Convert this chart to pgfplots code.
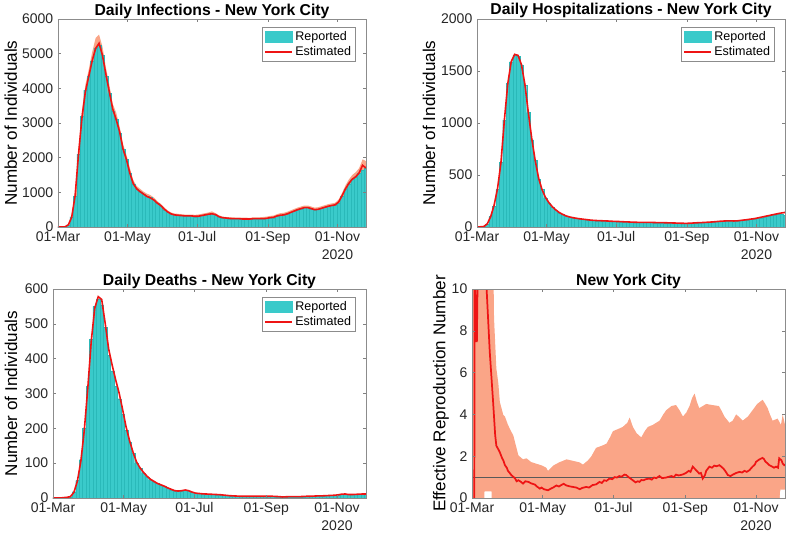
\documentclass[border=0pt]{standalone}
\usepackage{fontspec}
\setmainfont{Liberation Sans}
\usepackage{pgfplots}
\usepackage{pgfplotstable}
\pgfplotsset{compat=1.18}
\definecolor{barc}{RGB}{58,202,202}
\definecolor{bare}{RGB}{42,185,185}
\definecolor{bandc}{RGB}{250,165,135}
\definecolor{estc}{RGB}{238,20,20}

\pgfplotstableread{
d r e u
0 0 0 0
3 0 0 0
6 5 5 10
9 60 60 80
12 300 280 330
15 900 900 1000
18 2100 2100 2250
21 3200 3150 3350
24 3950 3900 4100
27 4350 4350 4550
30 4800 4800 5050
33 5150 5150 5450
36 5250 5300 5550
39 4950 4950 5200
42 4350 4400 4600
45 3850 3900 4100
48 3350 3400 3550
51 3100 3100 3300
54 2700 2750 2900
57 2250 2250 2400
60 1950 1950 2080
63 1550 1550 1700
66 1250 1250 1350
69 1100 1100 1180
72 1020 1020 1100
75 950 950 1020
78 880 880 960
81 850 840 920
84 780 780 850
87 680 690 750
90 600 620 670
93 500 520 570
96 420 440 480
99 370 380 420
102 350 350 390
105 340 340 380
108 330 330 370
111 320 320 360
114 320 320 360
117 310 320 360
120 300 310 350
123 310 310 360
126 330 330 380
129 340 350 400
132 360 370 420
135 380 380 450
138 350 360 400
141 300 300 340
144 260 270 300
147 250 260 290
150 240 250 280
153 240 240 280
156 230 240 270
159 230 240 270
162 230 230 270
165 230 230 270
168 220 230 260
171 230 240 280
174 230 240 280
177 240 240 280
180 240 240 290
183 250 250 300
186 260 270 320
189 270 280 330
192 310 320 370
195 340 340 400
198 350 350 410
201 380 380 440
204 420 420 480
207 460 460 520
210 500 500 560
213 530 530 590
216 560 560 620
219 570 560 620
222 530 530 590
225 500 500 560
228 510 510 570
231 540 540 600
234 570 570 630
237 600 600 660
240 620 620 680
243 640 640 700
246 700 720 790
249 900 900 980
252 1100 1100 1200
255 1250 1260 1370
258 1380 1380 1500
261 1450 1450 1580
264 1550 1560 1700
267 1650 1780 1950
270 1700 1700 1900
}\tabInf

\pgfplotstableread{
d r e
0 0 0
3 2 2
6 5 5
9 30 30
12 100 100
15 200 210
18 360 370
21 620 620
24 1030 1030
27 1380 1380
30 1590 1590
33 1650 1660
36 1640 1650
39 1560 1560
42 1360 1370
45 1100 1100
48 840 850
51 640 640
54 460 470
57 360 360
60 280 285
63 230 235
66 190 195
69 160 165
72 135 140
75 120 122
78 105 107
81 95 97
84 88 90
87 82 84
90 77 79
93 74 75
96 70 71
99 66 67
102 63 64
105 61 62
108 60 61
111 58 59
114 57 58
117 55 56
120 53 54
123 52 53
126 51 52
129 50 50
132 48 49
135 47 47
138 46 46
141 45 45
144 45 45
147 44 45
150 44 44
153 43 44
156 42 43
159 42 42
162 41 42
165 40 41
168 39 40
171 38 39
174 37 38
177 36 37
180 35 36
183 35 35
186 36 36
189 37 38
192 39 40
195 41 42
198 43 43
201 45 45
204 47 47
207 49 49
210 52 52
213 54 55
216 57 57
219 58 59
222 58 59
225 57 58
228 58 59
231 62 63
234 66 67
237 70 71
240 74 76
243 78 80
246 84 87
249 90 94
252 97 101
255 103 108
258 110 115
261 115 122
264 120 129
267 124 135
270 115 140
}\tabHos

\pgfplotstableread{
d r e
0 0 0
3 0 0
6 0 0
9 1 1
12 2 2
15 4 4
18 18 16
21 50 48
24 110 105
27 200 195
30 320 315
33 455 450
36 550 545
39 570 578
42 555 570
45 490 502
48 410 428
51 365 382
54 320 340
57 285 302
60 240 255
63 195 205
66 160 165
69 128 132
72 100 104
75 85 87
78 72 74
81 60 63
84 52 54
87 46 48
90 42 42
93 37 38
96 33 34
99 28 29
102 24 25
105 20 21
108 19 20
111 20 21
114 22 23
117 20 21
120 17 17
123 14 14
126 13 13
129 12 12
132 11 11.5
135 11 11
138 10 10.5
141 9 10
144 9 9.5
147 8 8.5
150 7 7.5
153 6 6.5
156 6 6
159 5 5.5
162 5 5
165 5 5
168 5 5
171 5 5
174 5 5
177 5 5
180 5 5
183 5 5
186 5 5
189 5 5
192 4 4.5
195 4 4
198 3 3
201 3 3.5
204 4 4
207 4 4
210 4 4
213 4 4
216 4 4.5
219 5 5
222 5 5
225 5 5.5
228 6 6
231 6 6
234 6 6.5
237 7 7
240 7 7.5
243 8 8
246 9 9
249 10 11
252 11 11.5
255 10 10
258 10 10
261 10 10.5
264 11 11
267 11 11.5
270 11 11.5
}\tabDea

\pgfplotstableread{
d u
1 10.5
18 10.5
18.7 10
19 8.6
21 6.2
22.7 5.5
24 4.6
27 3.97
28.4 3.9
31 3.5
34 3.16
35.6 3.0
40 2.04
44 1.85
47 1.9
51 1.72
55 1.65
60 1.56
64 1.45
65.5 1.3
70 1.55
75 1.7
81.5 1.85
87 1.78
93 1.7
95.7 1.6
100 1.8
103 2.0
107 2.4
112 2.5
116 2.6
119 2.9
121.6 3.2
126 3.3
130 3.4
134 3.6
136 3.85
138.8 3.4
142 3.1
146 2.9
149 3.2
151.7 3.4
156 3.5
161.8 3.7
165 4.0
167.5 4.2
172 4.4
176 4.45
179 4.2
182 3.9
185 4.1
187.6 4.4
190 4.8
192 5.0
194 4.6
196 4.3
199 4.4
202 4.5
207 4.45
213 4.4
215 4.2
217.7 3.9
222 3.6
224.9 3.7
227.8 4.0
230 3.9
233.5 3.7
238 3.9
242 4.2
246 4.5
250.7 4.7
253 4.5
255 4.3
257 4.0
259.3 3.7
263.6 3.8
266.5 3.5
268 4.0
270 3.5
}\tabRup

\pgfplotstableread{
d r
2 0
2.3 12
3 9.4
3.5 7.5
4.2 7.5
4.6 9.4
5.2 13
12 11
12.6 10
15.3 7.0
18.2 4.6
20 3.0
21 2.5
22.5 2.35
23.9 2.2
26 1.9
27 1.8
28.4 1.57
30 1.45
31 1.3
32.5 1.2
34 1.09
37 0.95
38.5 0.8
40 0.85
42 0.78
44 0.69
46 0.8
48.7 0.77
51 0.7
54.4 0.64
56 0.55
58.5 0.45
60 0.5
62 0.42
65.6 0.37
68 0.45
70 0.5
72.8 0.6
75 0.55
77 0.62
79 0.68
81.4 0.6
84 0.56
87 0.53
90 0.5
93 0.42
95 0.48
98.5 0.53
101 0.5
104 0.62
107 0.65
110 0.77
112 0.72
114 0.85
116 0.82
118.6 0.93
121 0.9
123 1.0
125 0.98
127 1.05
129 1.02
131.5 1.12
133 1.1
135 1.0
137 0.92
138.7 0.85
141 0.75
143 0.8
144.5 0.77
146 0.86
148 0.85
150 0.9
153 0.93
155 0.88
157 0.98
159 0.95
161.7 1.05
164 0.95
167.5 0.98
170 1.02
172 1.05
174 1.0
176 1.12
178 1.08
180 1.1
182 1.13
184.6 1.2
187 1.3
188.5 1.25
190.4 1.5
193 1.35
196 1.17
197.5 1.2
199 0.93
201 1.1
202 1.3
204.8 1.5
207 1.45
209 1.55
211 1.52
213.4 1.57
215 1.5
217 1.4
219 1.25
220.6 1.1
223 1.05
225 1.12
228 1.2
230.7 1.25
233 1.22
235 1.3
237 1.25
239.3 1.33
242 1.5
244 1.6
245 1.73
248 1.85
250.7 1.92
252 1.85
253 1.75
255 1.65
256.5 1.57
259 1.5
260.5 1.45
262.2 1.5
264 1.45
265 1.9
266 1.85
267 1.8
268 1.65
269.3 1.57
270 1.6
}\tabRe

\pgfplotsset{
  panel/.style={
    scale only axis,
    xmin=0, xmax=270, ymin=0,
    xtick={0,61,122,184,245},
    xticklabels={01-Mar,01-May,01-Jul,01-Sep,{01-Nov\\2020}},
    xticklabel style={align=center, font=\fontsize{10.5}{13.5}\selectfont, text=black!85},
    yticklabel style={font=\fontsize{10.5}{12.6}\selectfont, text=black!85},
    tick align=inside, major tick length=2.5pt,
    tick style={black!50, line width=0.4pt},
    axis line style={black!45, line width=0.4pt},
    axis on top,
    title style={font=\fontsize{11.8}{14}\selectfont\bfseries, at={(0.5,1)}, anchor=base, yshift=-3pt},
    ylabel style={font=\fontsize{12.8}{15}\selectfont, anchor=center},
    scaled ticks=false,
    /pgf/number format/1000 sep={},
    /pgf/number format/assume math mode=true,
    legend cell align=left,
    legend style={at={(1,1)}, anchor=north east, xshift=-7.5pt, yshift=-6pt,
      draw=black!45, line width=0.4pt, font=\fontsize{9.4}{11}\selectfont,
      inner xsep=1.5pt, inner ysep=1pt, row sep=-1pt},
  },
  barplot/.style={ybar, bar width=3, fill=barc, draw=bare, line width=0.15pt,
    legend image code/.code={\fill[barc] (0pt,-4pt) rectangle (20pt,4pt);}},
  estplot/.style={estc, line width=1.2pt, no marks,
    legend image code/.code={\draw[estc, line width=1pt] (0pt,0pt) -- (20pt,0pt);}},
}

\begin{document}
\begin{tikzpicture}
\useasboundingbox (0,0) rectangle (593.25pt,402pt);

% Panel 1
\begin{axis}[panel, at={(43.5pt,231.75pt)}, anchor=south west,
  width=231pt, height=156pt, ymax=6000, ytick={0,1000,...,6000},
  title={Daily Infections - New York City},
  ylabel={Number of Individuals},
  ylabel style={at={(axis description cs:-0.153,0.5)}}]
\addplot[fill=bandc, draw=none, forget plot] table[x=d,y=u] {\tabInf} \closedcycle;
\addplot[barplot] table[x=d,y=r] {\tabInf};
\addlegendentry{Reported}
\addplot[estplot] table[x=d,y=e] {\tabInf};
\addlegendentry{Estimated}
\end{axis}

% Panel 2
\begin{axis}[panel, at={(357.75pt,231.75pt)}, anchor=south west,
  width=231pt, height=156pt, ymax=2000, ytick={0,500,...,2000},
  title={Daily Hospitalizations - New York City},
  ylabel={Number of Individuals},
  ylabel style={at={(axis description cs:-0.156,0.5)}}]
\addplot[barplot] table[x=d,y=r] {\tabHos};
\addlegendentry{Reported}
\addplot[estplot] table[x=d,y=e] {\tabHos};
\addlegendentry{Estimated}
\end{axis}

% Panel 3
\begin{axis}[panel, at={(39.75pt,28.5pt)}, anchor=south west,
  width=234.75pt, height=156.75pt, ymax=600, ytick={0,100,...,600},
  title={Daily Deaths - New York City},
  ylabel={Number of Individuals},
  ylabel style={at={(axis description cs:-0.134,0.5)}}]
\addplot[barplot] table[x=d,y=r] {\tabDea};
\addlegendentry{Reported}
\addplot[estplot] table[x=d,y=e] {\tabDea};
\addlegendentry{Estimated}
\end{axis}

% Panel 4
\begin{axis}[panel, at={(354pt,28.5pt)}, anchor=south west,
  width=234.75pt, height=156.75pt, ymax=10, ytick={0,2,...,10},
  title={New York City},
  ylabel={Effective Reproduction Number},
  ylabel style={at={(axis description cs:-0.099,0.5)}}]
\addplot[fill=bandc, draw=none, forget plot] table[x=d,y=u] {\tabRup} \closedcycle;
\addplot[fill=white, draw=none, forget plot] coordinates {(10.6,0) (10.8,0.32) (16.8,0.32) (17,0)} \closedcycle;
\addplot[fill=white, draw=none, forget plot] coordinates {(265.5,0) (266,0.4) (270,0.4)} \closedcycle;
\addplot[black!65, line width=0.5pt, forget plot] coordinates {(0,1) (270,1)};
\addplot[estc, line width=1.3pt, no marks, forget plot] table[x=d,y=r] {\tabRe};
\end{axis}
\end{tikzpicture}
\end{document}
